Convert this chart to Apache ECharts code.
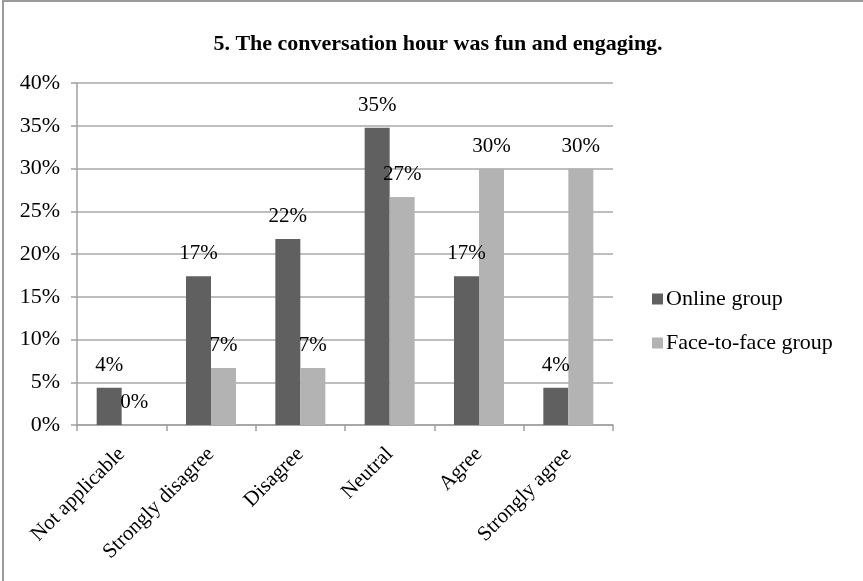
<!DOCTYPE html>
<html>
<head>
<meta charset="utf-8">
<script src="https://cdn.jsdelivr.net/npm/echarts@6/dist/echarts.min.js"></script>
<style>
html, body { margin: 0; padding: 0; background: #fff; }
#chart { width: 863px; height: 581px; }
</style>
</head>
<body>
<div id="chart"></div>
<script>
// Survey question 5: share of responses per answer, by group
const titleText = '5. The conversation hour was fun and engaging.';
const categories = ['Not applicable', 'Strongly disagree', 'Disagree', 'Neutral', 'Agree', 'Strongly agree'];
const onlineGroup = [4.35, 17.39, 21.74, 34.78, 17.39, 4.35];
const faceToFaceGroup = [0, 6.67, 6.67, 26.67, 30, 30];
const seriesNames = ['Online group', 'Face-to-face group'];

const FONT = '"Liberation Serif", "Times New Roman", serif';
const pct = (p) => Math.round(p.value) + '%';

const chart = echarts.init(document.getElementById('chart'));
chart.setOption({
  animation: false,
  backgroundColor: '#fff',
  textStyle: { fontFamily: FONT },
  graphic: [{
    type: 'rect',
    shape: { x: 3, y: 1, width: 900, height: 620 },
    style: { fill: 'none', stroke: '#9a9a9a', lineWidth: 2 },
    silent: true
  }],
  title: {
    text: titleText,
    left: 433,
    textAlign: 'center',
    top: 28,
    textStyle: { fontFamily: FONT, fontWeight: 'bold', fontSize: 22, color: '#000' }
  },
  legend: {
    orient: 'vertical',
    left: 647,
    top: 283,
    itemWidth: 11,
    itemHeight: 11,
    itemGap: 22,
    icon: 'rect',
    textStyle: { fontFamily: FONT, fontSize: 22, color: '#000', padding: [0, 0, 0, -2] },
    data: seriesNames
  },
  grid: { left: 77, right: 250, top: 83, bottom: 156, containLabel: false },
  xAxis: {
    type: 'category',
    data: categories,
    axisLine: { lineStyle: { color: '#a0a0a0', width: 1.5 } },
    axisTick: { show: true, length: 6, lineStyle: { color: '#a0a0a0', width: 1.5 } },
    axisLabel: { rotate: 45, margin: 26, fontFamily: FONT, fontSize: 21, color: '#000' }
  },
  yAxis: {
    type: 'value',
    min: 0,
    max: 40,
    interval: 5,
    axisLine: { show: true, lineStyle: { color: '#a0a0a0', width: 1.5 } },
    axisTick: { show: true, length: 6, lineStyle: { color: '#a0a0a0', width: 1.5 } },
    axisLabel: { formatter: '{value}%', margin: 17, fontFamily: FONT, fontSize: 22, color: '#000' },
    splitLine: { lineStyle: { color: '#a8a8a8', width: 1.5 } }
  },
  series: [
    {
      name: seriesNames[0],
      type: 'bar',
      data: onlineGroup,
      barWidth: 25,
      barGap: '0%',
      itemStyle: { color: '#606060' },
      label: { show: true, position: 'top', distance: 12, formatter: pct, fontFamily: FONT, fontSize: 21, color: '#000' }
    },
    {
      name: seriesNames[1],
      type: 'bar',
      data: faceToFaceGroup,
      barWidth: 25,
      itemStyle: { color: '#b3b3b3' },
      label: { show: true, position: 'top', distance: 12, formatter: pct, fontFamily: FONT, fontSize: 21, color: '#000' }
    }
  ]
});
</script>
</body>
</html>
